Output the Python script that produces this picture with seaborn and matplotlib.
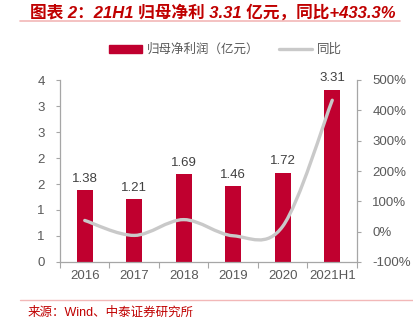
import matplotlib
matplotlib.use("Agg")
import matplotlib.pyplot as plt
import seaborn as sns
import pandas as pd
from matplotlib.path import Path
from matplotlib.patches import PathPatch, Patch
from matplotlib.lines import Line2D

# ---- data ----
categories = ["2016", "2017", "2018", "2019", "2020", "2021H1"]
profit = [1.38, 1.21, 1.69, 1.46, 1.72, 3.31]          # 归母净利润（亿元）
yoy = [37.0, -12.3, 39.7, -13.6, 17.8, 433.3]           # 同比 (%)
left_ticks = [0, 0.5, 1.0, 1.5, 2.0, 2.5, 3.0, 3.5]
left_tick_labels = ["0", "1", "1", "2", "2", "3", "3", "4"]
right_ticks = [-100, 0, 100, 200, 300, 400, 500]
title = "图表 2：21H1 归母净利 3.31 亿元，同比+433.3%"
source = "来源：Wind、中泰证券研究所"
legend_labels = ["归母净利润（亿元）", "同比"]

BAR = "#C0002F"
LINE = "#C9C9C9"
TXT = "#595959"
AX = "#A6A6A6"
RED = "#C00000"

sns.set_theme(style="white")
plt.rcParams["font.family"] = ["Liberation Sans", "Noto Sans CJK SC", "DejaVu Sans"]

fig = plt.figure(figsize=(4.14, 3.27), dpi=100)
ax = fig.add_axes([60/414, 1-262/327, (357-60)/414, (262-80)/327])

df = pd.DataFrame({"cat": categories, "val": profit})
sns.barplot(data=df, x="cat", y="val", color=BAR, width=0.33, ax=ax,
            saturation=1, edgecolor=BAR, linewidth=0)
ax.bar_label(ax.containers[0], labels=[f"{v:.2f}" for v in profit],
             padding=4, fontsize=9.5, color="#404040")
ax.set_xlim(-0.5, len(categories) - 0.5)
ax.set_ylim(0, 3.5)
ax.set_yticks(left_ticks)
ax.set_yticklabels(left_tick_labels)
ax.set_xlabel("")
ax.set_ylabel("")

ax2 = ax.twinx()
ax2.set_ylim(-100, 500)
ax2.set_yticks(right_ticks)
ax2.set_yticklabels([f"{t}%" for t in right_ticks])

# smoothed line (Catmull-Rom as cubic Bezier), built from the data points
pts = list(zip(range(len(yoy)), yoy))
verts = [pts[0]]
codes = [Path.MOVETO]
n = len(pts)
for i in range(n - 1):
    p0 = pts[i - 1] if i > 0 else pts[i]
    p1 = pts[i]
    p2 = pts[i + 1]
    p3 = pts[i + 2] if i + 2 < n else pts[i + 1]
    c1 = (p1[0] + (p2[0] - p0[0]) / 6, p1[1] + (p2[1] - p0[1]) / 6)
    c2 = (p2[0] - (p3[0] - p1[0]) / 6, p2[1] - (p3[1] - p1[1]) / 6)
    verts += [c1, c2, p2]
    codes += [Path.CURVE4] * 3
ax2.add_patch(PathPatch(Path(verts, codes), facecolor="none", edgecolor=LINE,
                        lw=2.4, capstyle="round", transform=ax2.transData))

for a in (ax, ax2):
    a.spines["top"].set_visible(False)
    for s in ("left", "right", "bottom"):
        a.spines[s].set_color(AX)
        a.spines[s].set_linewidth(0.9)
ax.spines["right"].set_visible(False)
ax2.spines["left"].set_visible(False)
ax2.spines["bottom"].set_visible(False)

ax.tick_params(axis="y", colors=TXT, labelsize=9.5, length=3, width=0.8, color=AX, pad=8, direction="out", left=True)
ax2.tick_params(axis="y", colors=TXT, labelsize=9.5, length=3, width=0.8, color=AX, pad=8, direction="out", right=True)
ax.tick_params(axis="x", colors=TXT, labelsize=9.5, length=0, pad=6)
ax.set_xticks([i - 0.5 for i in range(len(categories) + 1)], minor=True)
ax.tick_params(axis="x", which="minor", length=4, width=0.8, color=AX, bottom=True, direction="out")

handles = [Patch(facecolor=BAR, edgecolor=BAR),
           Line2D([0], [0], color=LINE, lw=2.4)]
fig.legend(handles, legend_labels, loc="center", bbox_to_anchor=(0.545, 1-50/327),
           ncol=2, frameon=False, fontsize=9, labelcolor=TXT,
           handlelength=2.6, handleheight=0.6, columnspacing=1.6, handletextpad=0.4)

fig.text(0.072, 1-12/327, title, color=RED, fontsize=12, fontweight="bold",
         style="italic", ha="left", va="center")
fig.add_artist(Line2D([20/414, 400/414], [1-21/327, 1-21/327], color="#F2B8B8", lw=1.2))
fig.add_artist(Line2D([20/414, 1.0], [1-300/327, 1-300/327], color="#F2B8B8", lw=1.0))
fig.text(28/414, 1-313/327, source, color=RED, fontsize=9, ha="left", va="center")

fig.savefig("out.png", dpi=100)
